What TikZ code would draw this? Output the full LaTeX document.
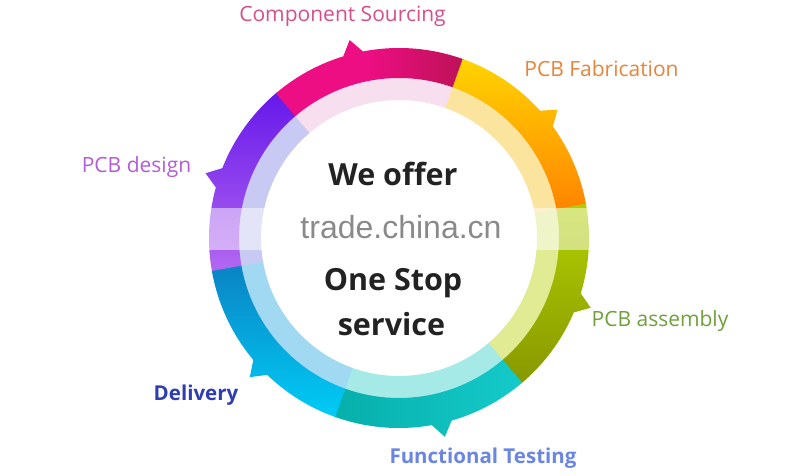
\documentclass[tikz,border=0pt]{standalone}
\usepackage{fontspec}
\setmainfont{Open Sans}
\newfontfamily\wmfont{Liberation Sans}
\definecolor{cCS}{HTML}{D64F8C}
\definecolor{cFab}{HTML}{E8843C}
\definecolor{cAsm}{HTML}{6FA03C}
\definecolor{cFT}{HTML}{6A86E0}
\definecolor{cDel}{HTML}{2E3EB0}
\definecolor{cDes}{HTML}{B45CD8}
\definecolor{cDark}{HTML}{222222}
\definecolor{cWm}{HTML}{8A8A8A}
\definecolor{lPur}{HTML}{C9CAF3}
\definecolor{lMag}{HTML}{F8DFEF}
\definecolor{lYel}{HTML}{FBE49E}
\definecolor{lGrn}{HTML}{E0EB94}
\definecolor{lTea}{HTML}{A6EAE8}
\definecolor{lBlu}{HTML}{A2D9F2}
\definecolor{sPurA}{HTML}{6618EA}
\definecolor{sPurB}{HTML}{B468F0}
\definecolor{sMagA}{HTML}{EC0E82}
\definecolor{sMagB}{HTML}{BC1256}
\definecolor{sYelA}{HTML}{FFD400}
\definecolor{sYelB}{HTML}{FF8400}
\definecolor{sGrnA}{HTML}{B2D000}
\definecolor{sGrnB}{HTML}{889800}
\definecolor{sTeaA}{HTML}{06AFAA}
\definecolor{sTeaB}{HTML}{14CACA}
\definecolor{sBluA}{HTML}{0A84C4}
\definecolor{sBluB}{HTML}{00CCF6}
% #1 start angle, #2 end angle, #3 shading, #4 light colour, #5 tab angle
\newcommand\ringseg[5]{%
  \fill[#4] (#1:160.5pt) arc[start angle=#1,end angle={#2+0.4},radius=160.5pt]
     -- ({#2+0.4}:138pt) arc[start angle={#2+0.4},end angle=#1,radius=138pt] -- cycle;
  \shade[#3] (#1:190pt) arc[start angle=#1,end angle={#2+0.4},radius=190pt]
     -- ({#2+0.4}:160pt) arc[start angle={#2+0.4},end angle=#1,radius=160pt] -- cycle
     ({#5-3.8}:187pt) -- (#5:204pt) -- ({#5+3.8}:187pt) -- cycle;
}
\tikzset{
  lab/.style={anchor=base, inner sep=0pt, font=\fontsize{21}{24}\selectfont},
  blab/.style={anchor=base, inner sep=0pt, font=\fontsize{20.5}{24}\selectfont\bfseries},
  big/.style={anchor=base, inner sep=0pt, text=cDark, font=\fontsize{30.5}{34}\selectfont\bfseries}
}
\begin{document}
\begin{tikzpicture}[x=1pt,y=1pt]
\useasboundingbox (0,0) rectangle (800,475);
\fill[white] (0,0) rectangle (800,475);
\begin{scope}[shift={(399,237)}]
  \ringseg{130}{190}{top color=sPurA,bottom color=sPurB}{lPur}{161.5}
  \ringseg{70}{130}{left color=sMagA,right color=sMagB,middle color=sMagA}{lMag}{104}
  \ringseg{10}{70}{top color=sYelA,bottom color=sYelB}{lYel}{39}
  \ringseg{-50}{10}{top color=sGrnA,bottom color=sGrnB}{lGrn}{-20}
  \ringseg{-110}{-50}{left color=sTeaA,right color=sTeaB}{lTea}{-77}
  \ringseg{-170}{-110}{top color=sBluA,bottom color=sBluB}{lBlu}{-137}
\end{scope}
% watermark band
\fill[white, opacity=0.5] (204,225) rectangle (597,267);
\node[anchor=base, inner sep=0pt, text=cWm, font=\wmfont\fontsize{32}{35}\selectfont] (wm) at (401,237) {trade.china.cn};
% centre text
\node[big] (t1) at (393,290) {We offer};
\node[big] (t2) at (393,185) {One Stop};
\node[big] (t3) at (391.5,140) {service};
% labels
\node[lab, text=cCS] (cs) at (342.5,453) {Component Sourcing};
\node[lab, text=cFab] (fab) at (601.5,398) {PCB Fabrication};
\node[lab, text=cAsm] (asm) at (660,149) {PCB assembly};
\node[blab, text=cFT] (ft) at (483,12) {Functional Testing};
\node[blab, text=cDel] (del) at (196,75) {Delivery};
\node[lab, text=cDes] (des) at (136.5,303) {PCB design};
\end{tikzpicture}
\end{document}
